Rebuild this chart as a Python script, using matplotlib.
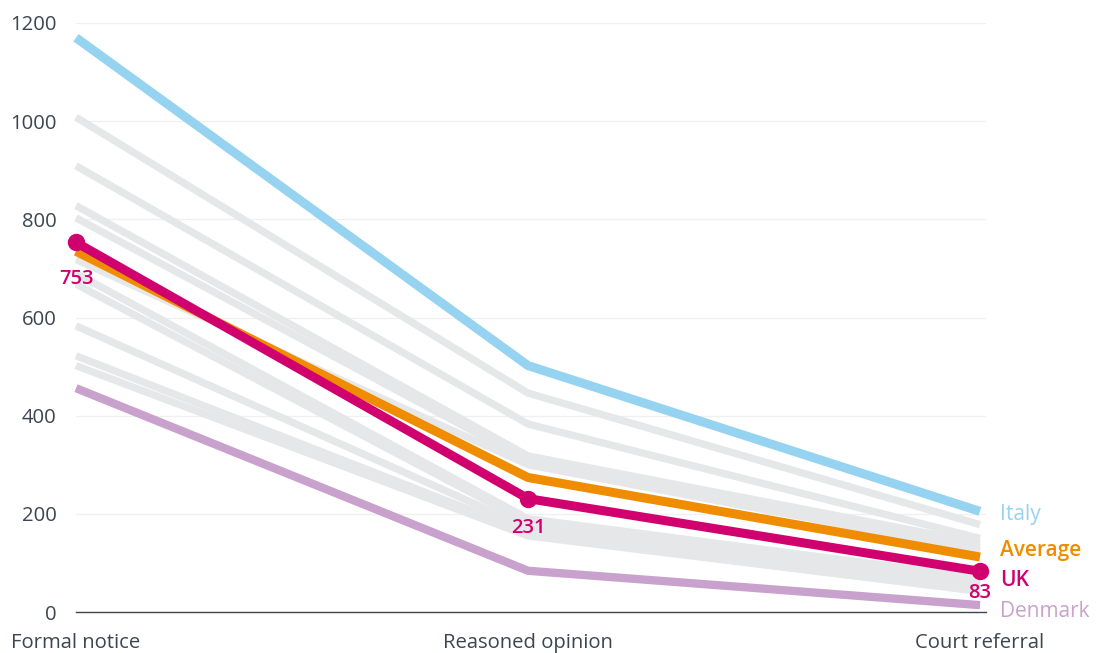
import matplotlib
matplotlib.use("Agg")
import matplotlib.pyplot as plt

plt.rcParams['font.family'] = ['Open Sans', 'DejaVu Sans']

stages = ["Formal notice", "Reasoned opinion", "Court referral"]
yticks = [0, 200, 400, 600, 800, 1000, 1200]

# Other member states (grey background lines)
grey_series = [
    [1008, 446, 178],
    [909, 383, 150],
    [828, 318, 140],
    [803, 308, 132],
    [718, 300, 125],
    [690, 190, 70],
    [668, 182, 62],
    [583, 172, 56],
    [522, 162, 48],
    [502, 155, 42],
]
italy = [1170, 502, 205]
denmark = [456, 84, 14]
average = [735, 274, 112]
uk = [753, 231, 83]

c_grey = "#e6e7e8"
c_italy = "#96d3f0"
c_denmark = "#c8a2cc"
c_avg = "#ef8c00"
c_uk = "#d1006f"
c_text = "#3c4650"

W, H = 1097, 653
fig = plt.figure(figsize=(W / 100, H / 100), dpi=100)
left, right = 76 / W, 986 / W
bottom, top = 1 - 612 / H, 1 - 23 / H
ax = fig.add_axes([left, bottom, right - left, top - bottom])

x = list(range(len(stages)))
for s in grey_series:
    ax.plot(x, s, color=c_grey, lw=5.3, solid_capstyle='butt', zorder=2, clip_on=False)
ax.plot(x, denmark, color=c_denmark, lw=6, solid_capstyle='butt', zorder=3, clip_on=False)
ax.plot(x, italy, color=c_italy, lw=6.5, solid_capstyle='butt', zorder=3, clip_on=False)
ax.plot(x, average, color=c_avg, lw=6.5, solid_capstyle='butt', zorder=4, clip_on=False)
ax.plot(x, uk, color=c_uk, lw=6.5, marker='o', markersize=11.5, zorder=5, clip_on=False)

ax.set_xlim(0, 2.0 * 910 / 904)
ax.set_ylim(0, 1200)
ax.set_yticks(yticks)
ax.set_yticklabels([str(v) for v in yticks])
ax.set_xticks(x)
ax.set_xticklabels(stages)
ax.tick_params(axis='both', length=0, labelsize=14.6, colors=c_text)
ax.tick_params(axis='y', pad=14)
ax.tick_params(axis='x', pad=15)

ax.grid(axis='y', color="#f0f0f0", lw=1)
ax.set_axisbelow(True)
for sp in ["top", "right", "left"]:
    ax.spines[sp].set_visible(False)
ax.spines["bottom"].set_color(c_text)
ax.spines["bottom"].set_linewidth(1)
ax.spines["bottom"].set_zorder(1)

# value annotations for UK
ax.text(0, uk[0] - 75, str(uk[0]), color=c_uk, fontsize=14.5, fontweight='semibold',
        ha='center', va='center')
ax.text(1, uk[1] - 60, str(uk[1]), color=c_uk, fontsize=14.5, fontweight='semibold',
        ha='center', va='center')
ax.text(2, uk[2] - 45, str(uk[2]), color=c_uk, fontsize=14.5, fontweight='semibold',
        ha='center', va='center')

# series labels at right
lx = 2.0 + 20 / 452
ax.text(lx, 198, "Italy", color=c_italy, fontsize=15, ha='left', va='center')
ax.text(lx, 125, "Average", color=c_avg, fontsize=15, fontweight='semibold', ha='left', va='center')
ax.text(lx, 65, "UK", color=c_uk, fontsize=15, fontweight='semibold', ha='left', va='center')
ax.text(lx, 2, "Denmark", color=c_denmark, fontsize=15, ha='left', va='center')

fig.savefig("out.png", dpi=100)
